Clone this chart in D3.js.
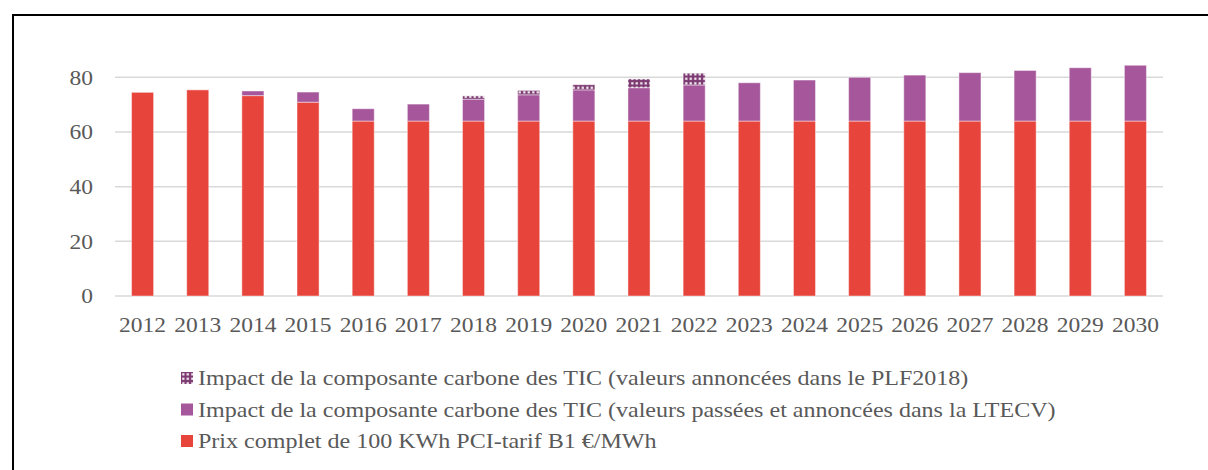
<!DOCTYPE html>
<html>
<head>
<meta charset="utf-8">
<script src="https://cdn.jsdelivr.net/npm/d3@7"></script>
<style>
  body { margin: 0; background: #fff; }
</style>
</head>
<body>
<svg></svg>
<script>
let width = 1208, height = 470;
let serif = "'Liberation Serif', 'Times New Roman', Times, serif";

// données
let years = ["2012","2013","2014","2015","2016","2017","2018","2019","2020","2021",
             "2022","2023","2024","2025","2026","2027","2028","2029","2030"];
let prix = [74.5,75.4,73.3,70.9,64,64,64,64,64,64,64,64,64,64,64,64,64,64,64];
let ltecv = [0,0,1.7,3.7,4.5,6.2,8.0,9.6,11.4,12.2,13.2,14.0,15.0,16.0,16.8,17.7,18.5,19.5,20.4];
let plf2018 = [0,0,0,0,0,0,1.2,1.6,1.9,3.2,4.3,0,0,0,0,0,0,0,0];
let yTicks = [0,20,40,60,80];
let legendLabels = [
  "Impact de la composante carbone des TIC (valeurs annoncées dans le PLF2018)",
  "Impact de la composante carbone des TIC (valeurs passées et annoncées dans la LTECV)",
  "Prix complet de 100 KWh PCI-tarif B1 €/MWh"
];

let keys = ["prix", "ltecv", "plf"];
let rows = years.map((y, i) => ({year: y, prix: prix[i], ltecv: ltecv[i], plf: plf2018[i]}));

let svg = d3.select("svg")
  .attr("width", width)
  .attr("height", height);

// motif pointillé pour la série PLF2018
let defs = svg.append("defs");
let pat = defs.append("pattern")
  .attr("id", "dots")
  .attr("patternUnits", "userSpaceOnUse")
  .attr("width", 4.5).attr("height", 4.5);
pat.append("rect").attr("width", 4.5).attr("height", 4.5).attr("fill", "#7d3a72");
pat.append("rect").attr("x", 1.2).attr("y", 1.2).attr("width", 2.2).attr("height", 2.2).attr("fill", "#fff");

let fills = {prix: "#e7443b", ltecv: "#a6579b", plf: "url(#dots)"};

// cadre
svg.append("path")
  .attr("d", "M13,470 L13,15 L1208,15")
  .attr("fill", "none")
  .attr("stroke", "#000")
  .attr("stroke-width", 2);

let x = d3.scaleBand()
  .domain(years)
  .range([115, 1163])
  .paddingInner(0.6)
  .paddingOuter(0.3);

let y = d3.scaleLinear()
  .domain([0, 80])
  .range([296, 77.3]);

// grille
svg.append("g")
  .selectAll("line")
  .data(yTicks)
  .join("line")
  .attr("x1", 115).attr("x2", 1163)
  .attr("y1", d => y(d)).attr("y2", d => y(d))
  .attr("stroke", "#d9d9d9")
  .attr("stroke-width", 1.5);

// axe y
let yAxis = svg.append("g")
  .attr("transform", "translate(93,0)")
  .call(d3.axisLeft(y).tickValues(yTicks).tickSize(0).tickPadding(0));
yAxis.attr("font-family", null);
yAxis.select(".domain").remove();
yAxis.selectAll("text")
  .style("font-family", serif)
  .style("font-size", "21px")
  .attr("fill", "#595959")
  .attr("transform", "scale(1.12,1)");

// barres empilées
let series = d3.stack().keys(keys)(rows);

svg.append("g")
  .selectAll("g")
  .data(series)
  .join("g")
  .attr("fill", d => fills[d.key])
  .selectAll("rect")
  .data(d => d.filter(p => p[1] - p[0] > 0))
  .join("rect")
  .attr("x", d => x(d.data.year))
  .attr("width", x.bandwidth())
  .attr("y", d => y(d[1]))
  .attr("height", d => y(d[0]) - y(d[1]))
  .attr("stroke", "#fff")
  .attr("stroke-opacity", 0.45)
  .attr("stroke-width", 1);

// axe x
let xAxis = svg.append("g")
  .attr("transform", "translate(0,296)")
  .call(d3.axisBottom(x).tickSize(0).tickPadding(0));
xAxis.attr("font-family", null);
xAxis.select(".domain").remove();
xAxis.selectAll("text")
  .style("font-family", serif)
  .style("font-size", "21px")
  .attr("fill", "#595959")
  .attr("dy", null)
  .attr("y", 36)
  .attr("transform", "scale(1.12,1)");

// légende
let legendFills = ["url(#dots)", "#a6579b", "#e7443b"];
let leg = svg.append("g")
  .selectAll("g")
  .data(legendLabels)
  .join("g")
  .attr("transform", (d, i) => `translate(181,${372 + i * 31.5})`);
leg.append("rect")
  .attr("width", 12).attr("height", 12)
  .attr("fill", (d, i) => legendFills[i]);
leg.append("text")
  .attr("transform", "translate(17,13) scale(1.145,1)")
  .style("font-family", serif)
  .style("font-size", "21px")
  .attr("fill", "#595959")
  .text(d => d);
</script>
</body>
</html>
